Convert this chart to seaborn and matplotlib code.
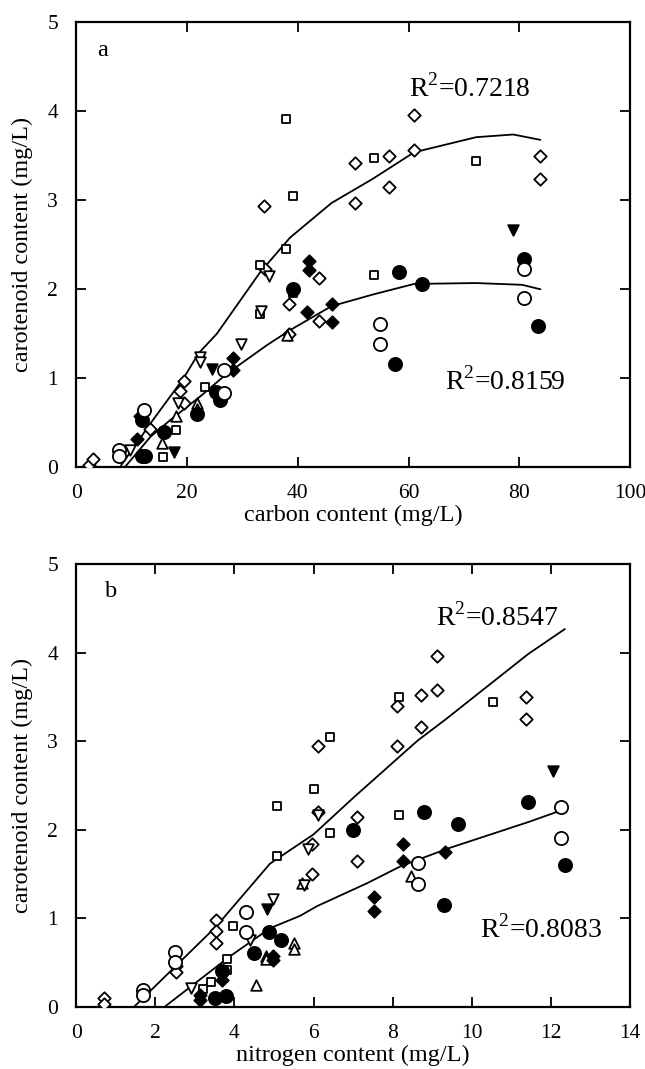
import matplotlib
matplotlib.use("Agg")
import matplotlib.pyplot as plt
import seaborn as sns
import pandas as pd

# ---- panel a: carbon content (mg/L) vs carotenoid content (mg/L) ----
a_odiamond_x = [2.3, 3.1, 13.4, 18.8, 19.5, 19.4, 33.9, 34.1, 38.5, 38.5, 43.8, 43.8, 50.3, 50.3, 56.5, 56.5, 60.9, 60.9, 83.8, 83.8]
a_odiamond_y = [0.02, 0.09, 0.43, 0.86, 0.97, 0.72, 2.94, 2.23, 1.83, 1.50, 2.13, 1.64, 3.42, 2.97, 3.50, 3.15, 3.96, 3.57, 3.50, 3.24]
a_osquare_x = [15.6, 18.05, 23.3, 33.1, 33.1, 37.9, 37.9, 39.2, 39.2, 53.7, 53.7, 72.2]
a_osquare_y = [0.11, 0.42, 0.90, 1.72, 2.27, 2.45, 3.91, 3.05, 1.96, 2.16, 3.48, 3.44]
a_otriup_x = [15.5, 18.05, 21.8, 21.8, 38.1]
a_otriup_y = [0.27, 0.57, 0.72, 0.65, 1.49]
a_otridown_x = [9.75, 18.3, 22.4, 22.4, 29.7, 33.4, 34.9]
a_otridown_y = [0.19, 0.72, 1.24, 1.18, 1.39, 1.76, 2.15]
a_ftridown_x = [17.6, 24.6, 78.8]
a_ftridown_y = [0.17, 1.10, 2.67]
a_fdiamond_x = [10.95, 11.55, 28.4, 28.4, 41.6, 42.0, 42.0, 46.1, 46.1]
a_fdiamond_y = [0.32, 0.57, 1.23, 1.09, 1.74, 2.32, 2.22, 1.83, 1.63]
a_fcircle_x = [11.9, 12.4, 11.9, 15.8, 21.8, 25.2, 25.9, 39.1, 57.6, 58.2, 62.5, 80.9, 83.3]
a_fcircle_y = [0.12, 0.12, 0.53, 0.40, 0.60, 0.84, 0.75, 2.00, 1.16, 2.19, 2.06, 2.34, 1.59]
a_ocircle_x = [7.8, 7.8, 12.2, 26.7, 26.7, 54.9, 54.9, 80.8, 80.8]
a_ocircle_y = [0.19, 0.13, 0.64, 1.09, 0.83, 1.61, 1.38, 2.23, 1.90]

a_fit1_x = [7.9, 13.4, 19.4, 22.1, 25.4, 33.2, 38.6, 46.1, 53.5, 61.0, 72.2, 78.9, 83.8]
a_fit1_y = [0.00, 0.49, 1.00, 1.28, 1.50, 2.19, 2.58, 2.97, 3.24, 3.54, 3.71, 3.74, 3.68]
a_fit2_x = [8.8, 13.4, 17.0, 22.5, 27.2, 34.4, 38.6, 46.1, 53.5, 61.0, 72.2, 80.5, 83.8]
a_fit2_y = [0.00, 0.34, 0.53, 0.80, 1.05, 1.37, 1.54, 1.81, 1.94, 2.06, 2.07, 2.05, 2.00]

# ---- panel b: nitrogen content (mg/L) vs carotenoid content (mg/L) ----
b_odiamond_x = [0.7, 0.7, 2.52, 2.52, 3.54, 3.54, 3.54, 5.96, 5.96, 6.1, 6.1, 7.09, 7.09, 8.1, 8.1, 8.72, 8.72, 9.12, 9.12, 11.36, 11.36]
b_odiamond_y = [0.10, 0.03, 0.46, 0.39, 0.98, 0.86, 0.72, 1.84, 1.50, 2.95, 2.20, 2.15, 1.65, 3.40, 2.95, 3.52, 3.16, 3.97, 3.58, 3.50, 3.25]
b_osquare_x = [3.2, 3.41, 3.82, 3.82, 3.96, 5.08, 5.08, 6.0, 6.42, 6.42, 8.15, 8.15, 10.54]
b_osquare_y = [0.20, 0.28, 0.54, 0.42, 0.91, 1.71, 2.27, 2.46, 3.05, 1.97, 3.50, 2.17, 3.45]
b_ocircle_x = [1.69, 1.69, 2.5, 2.5, 4.3, 4.3, 8.63, 8.63, 12.25, 12.25]
b_ocircle_y = [0.19, 0.13, 0.62, 0.51, 1.07, 0.85, 1.63, 1.39, 2.26, 1.91]
b_fcircle_x = [3.52, 3.8, 3.69, 4.5, 4.87, 5.17, 6.99, 8.78, 9.29, 9.65, 11.43, 12.36]
b_fcircle_y = [0.10, 0.12, 0.41, 0.61, 0.85, 0.76, 2.00, 2.20, 1.15, 2.07, 2.32, 1.60]
b_fdiamond_x = [3.12, 3.12, 3.69, 4.98, 4.98, 7.53, 7.53, 8.25, 8.25, 9.33]
b_fdiamond_y = [0.08, 0.13, 0.31, 0.58, 0.53, 1.24, 1.09, 1.84, 1.65, 1.75]
b_ftridown_x = [4.83, 12.04]
b_ftridown_y = [1.11, 2.67]
b_otridown_x = [2.9, 4.39, 4.98, 5.75, 5.85, 6.1]
b_otridown_y = [0.21, 0.76, 1.22, 1.38, 1.78, 2.17]
b_otriup_x = [4.54, 4.8, 4.8, 5.51, 5.51, 5.7, 8.46]
b_otriup_y = [0.25, 0.58, 0.54, 0.72, 0.66, 1.40, 1.48]

b_fit1_x = [1.46, 3.54, 4.9, 6.0, 7.02, 8.63, 9.31, 11.43, 12.35]
b_fit1_y = [0.00, 0.91, 1.62, 1.95, 2.37, 3.01, 3.24, 3.99, 4.27]
b_fit2_x = [2.23, 3.88, 4.9, 5.66, 6.09, 7.36, 8.2, 9.39, 11.43, 12.25]
b_fit2_y = [0.00, 0.57, 0.89, 1.03, 1.14, 1.40, 1.59, 1.79, 2.09, 2.22]

sns.set_style("ticks")
plt.rcParams['font.family'] = ['Liberation Serif', 'DejaVu Serif']
plt.rcParams['mathtext.fontset'] = 'custom'
plt.rcParams['mathtext.rm'] = 'Liberation Serif'
plt.rcParams['text.color'] = 'black'
plt.rcParams['axes.labelcolor'] = 'black'
plt.rcParams['axes.edgecolor'] = 'black'
plt.rcParams['xtick.color'] = 'black'
plt.rcParams['ytick.color'] = 'black'

# marker styles: (marker, facecolor, size)
styles = {
    'odiamond': ('D', 'white', 40),
    'osquare': ('s', 'white', 28),
    'otriup': ('^', 'white', 58),
    'otridown': ('v', 'white', 58),
    'ftridown': ('v', 'black', 58),
    'fdiamond': ('D', 'black', 40),
    'fcircle': ('o', 'black', 90),
    'ocircle': ('o', 'white', 90),
}

panels = [
    {
        'series': {
            'odiamond': (a_odiamond_x, a_odiamond_y), 'osquare': (a_osquare_x, a_osquare_y),
            'otriup': (a_otriup_x, a_otriup_y), 'otridown': (a_otridown_x, a_otridown_y),
            'ftridown': (a_ftridown_x, a_ftridown_y), 'fdiamond': (a_fdiamond_x, a_fdiamond_y),
            'fcircle': (a_fcircle_x, a_fcircle_y), 'ocircle': (a_ocircle_x, a_ocircle_y),
        },
        'fits': [(a_fit1_x, a_fit1_y), (a_fit2_x, a_fit2_y)],
        'xlim': (0, 100), 'xticks': [0, 20, 40, 60, 80, 100],
        'xlabel': 'carbon content (mg/L)', 'tag': 'a', 'tag_xy': (3.8, 4.69),
        'r2': [('R$^2$=0.7218', 60.0, 4.26), ('R$^2$=0.8159', 66.6, 0.96)],
        'rect': [0.118, 0.563, 0.859, 0.416],
    },
    {
        'series': {
            'odiamond': (b_odiamond_x, b_odiamond_y), 'osquare': (b_osquare_x, b_osquare_y),
            'otriup': (b_otriup_x, b_otriup_y), 'otridown': (b_otridown_x, b_otridown_y),
            'ftridown': (b_ftridown_x, b_ftridown_y), 'fdiamond': (b_fdiamond_x, b_fdiamond_y),
            'fcircle': (b_fcircle_x, b_fcircle_y), 'ocircle': (b_ocircle_x, b_ocircle_y),
        },
        'fits': [(b_fit1_x, b_fit1_y), (b_fit2_x, b_fit2_y)],
        'xlim': (0, 14), 'xticks': [0, 2, 4, 6, 8, 10, 12, 14],
        'xlabel': 'nitrogen content (mg/L)', 'tag': 'b', 'tag_xy': (0.72, 4.69),
        'r2': [('R$^2$=0.8547', 9.1, 4.4), ('R$^2$=0.8083', 10.2, 0.88)],
        'rect': [0.118, 0.058, 0.859, 0.414],
    },
]

fig = plt.figure(figsize=(6.45, 10.69), dpi=100)

for p in panels:
    ax = fig.add_axes(p['rect'])
    for fx, fy in p['fits']:
        fit_df = pd.DataFrame({'x': fx, 'y': fy})
        sns.lineplot(data=fit_df, x='x', y='y', sort=False, color='black', lw=1.3, ax=ax, zorder=2)
    for name, (sx, sy) in p['series'].items():
        mk, fc, sz = styles[name]
        df = pd.DataFrame({'x': sx, 'y': sy})
        sns.scatterplot(data=df, x='x', y='y', marker=mk, s=sz, color=fc,
                        edgecolor='black', linewidth=1.3, ax=ax, zorder=3, legend=False)
    ax.set_xlim(*p['xlim'])
    ax.set_ylim(0, 5)
    ax.set_xticks(p['xticks'])
    ax.set_yticks([0, 1, 2, 3, 4, 5])
    ax.tick_params(direction='in', length=7, width=1.3, top=True, right=True,
                   labelsize=15.5, colors='black')
    ax.tick_params(axis='x', pad=12)
    ax.tick_params(axis='y', pad=13)
    for sp in ax.spines.values():
        sp.set_linewidth(1.6)
        sp.set_color('black')
        sp.set_visible(True)
    ax.set_xlabel(p['xlabel'], fontsize=17.5, color='black')
    ax.set_ylabel('carotenoid content (mg/L)', fontsize=17.5, color='black')
    ax.xaxis.set_label_coords(0.5, -0.085)
    ax.yaxis.set_label_coords(-0.078, 0.5)
    ax.text(p['tag_xy'][0], p['tag_xy'][1], p['tag'], fontsize=17.5, va='center', color='black')
    for txt, tx, ty in p['r2']:
        ax.text(tx, ty, txt, fontsize=20, va='center', ha='left', color='black')

fig.savefig('out.png', dpi=100)
